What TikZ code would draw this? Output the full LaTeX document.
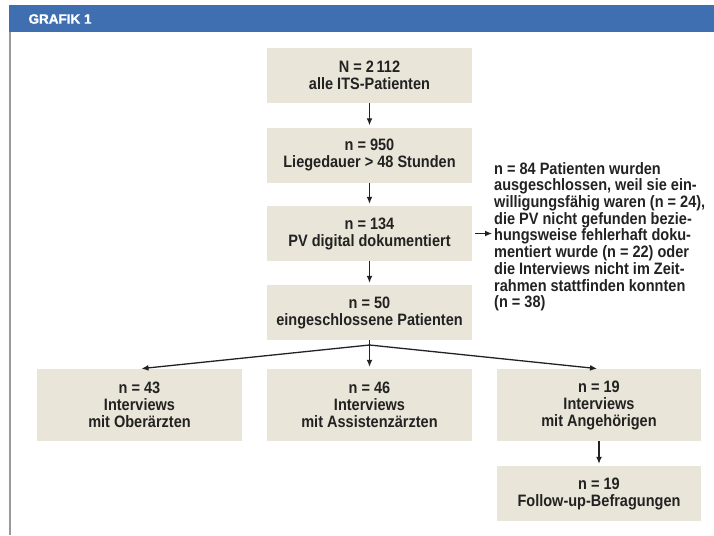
\documentclass[tikz,border=0pt]{standalone}
\usepackage{fontspec}
\setmainfont{Liberation Sans}[FakeStretch=0.88]
\newfontfamily\titlefont{Liberation Sans}[FakeBold=1.5]
\usetikzlibrary{arrows.meta}

\definecolor{headblue}{HTML}{3F6FB0}
\definecolor{boxbeige}{HTML}{E9E5D8}
\definecolor{textgray}{HTML}{222222}
\definecolor{framegray}{HTML}{9A9A9A}

\tikzset{
    stage/.style={fill=boxbeige, minimum width=205pt, minimum height=55pt,
        inner sep=0pt, align=center, text=textgray},
    flow/.style={-{Latex[length=7pt, width=6pt]}, line width=1.3pt, draw=textgray,
        shorten >=2pt}
}

\begin{document}
\begin{tikzpicture}[x=1pt, y=-1pt,
    every node/.style={font=\fontsize{16.5}{17}\selectfont\bfseries}
    ]
    \useasboundingbox (0,0) rectangle (714,535);

    % Frame and header
    \fill[headblue] (9,5) rectangle (714,32);
    \draw[framegray, line width=1.2pt] (10,32) -- (10,535);
    \node[anchor=west, text=white, font=\titlefont\fontsize{13.5}{16}\selectfont\bfseries] (title) at (25,19) {GRAFIK 1};

    % Define nodes
    \node[stage] (all) at (369.5,75.5) {N = 2\,112\\alle ITS-Patienten};
    \node[stage] (stay) at (369.5,155) {n = 950\\Liegedauer > 48 Stunden};
    \node[stage] (pv) at (369.5,233.5) {n = 134\\PV digital dokumentiert};
    \node[stage] (incl) at (369.5,312.5) {n = 50\\eingeschlossene Patienten};

    \node[anchor=north west, align=left, inner sep=0pt, text=textgray,
        font=\fontsize{16.5}{16.7}\selectfont\bfseries] (excl) at (494,162)
        {n = 84 Patienten wurden\\ausgeschlossen, weil sie ein-\\willigungsf\"ahig waren (n = 24),\\die PV nicht gefunden bezie-\\hungsweise fehlerhaft doku-\\mentiert wurde (n = 22) oder\\die Interviews nicht im Zeit-\\rahmen stattfinden konnten\\(n = 38)};

    \node[stage, minimum height=72pt] (senior) at (139.5,405) {n = 43\\Interviews\\mit Ober\"arzten};
    \node[stage, minimum height=72pt] (assist) at (369.5,405) {n = 46\\Interviews\\mit Assistenz\"arzten};
    \node[stage, minimum height=72pt, minimum width=204pt] (kin) at (599,405) {n = 19\\Interviews\\mit Angeh\"origen};
    \node[stage, minimum width=204pt] (follow) at (599,493.5) {n = 19\\Follow-up-Befragungen};

    \coordinate (split) at (369.5,345);

    % Draw directed edges
    \draw[flow] (all) -- (stay);
    \draw[flow] (stay) -- (pv);
    \draw[flow] (pv) -- (incl);
    \draw[flow, shorten <=3pt] (pv.east) -- (pv.east -| excl.west);
    \draw[flow] (incl) -- (assist);
    \draw[flow] (split) -- (senior.north);
    \draw[flow] (split) -- (kin.north);
    \draw[flow] (kin) -- (follow);

\end{tikzpicture}
\end{document}
